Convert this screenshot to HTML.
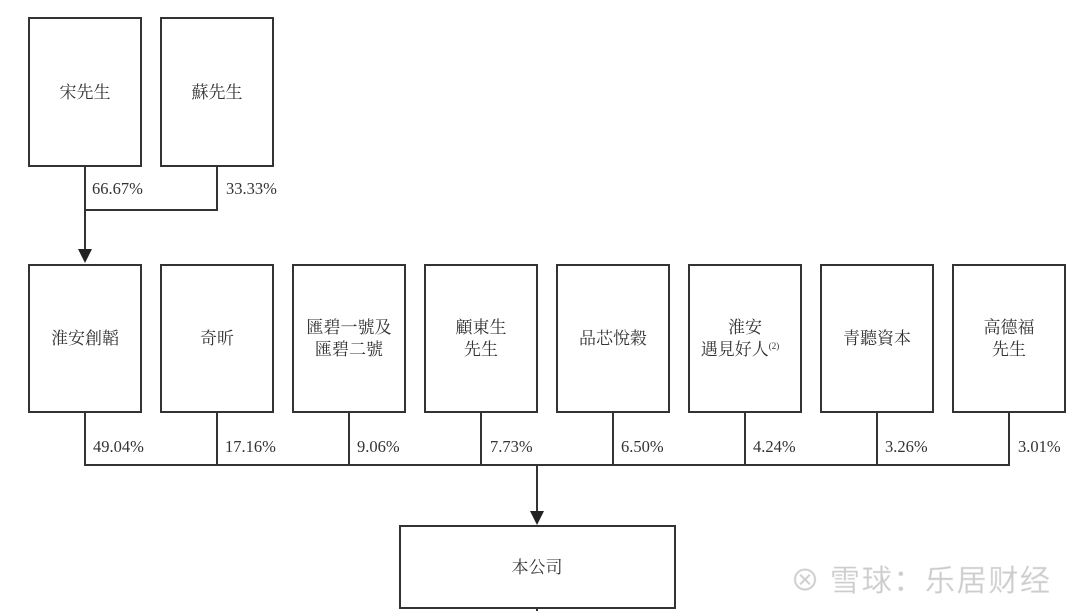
<!DOCTYPE html>
<html><head><meta charset="utf-8"><style>
body{margin:0;background:#fff;}
svg text{font-family:"Liberation Serif","Noto Serif CJK SC",serif;fill:#333;}
</style></head><body>
<svg width="1080" height="611" viewBox="0 0 1080 611" xmlns="http://www.w3.org/2000/svg">
<g fill="none" stroke="#333" stroke-width="2">
<rect x="29" y="18" width="112" height="148"/>
<rect x="161" y="18" width="112" height="148"/>
<path d="M85 166V250M217 166V210H85"/>
<rect x="29" y="265" width="112" height="147"/>
<rect x="161" y="265" width="112" height="147"/>
<rect x="293" y="265" width="112" height="147"/>
<rect x="425" y="265" width="112" height="147"/>
<rect x="557" y="265" width="112" height="147"/>
<rect x="689" y="265" width="112" height="147"/>
<rect x="821" y="265" width="112" height="147"/>
<rect x="953" y="265" width="112" height="147"/>
<path d="M85 412V465H1009V412M217 412V465M349 412V465M481 412V465M613 412V465M745 412V465M877 412V465M537 465V512"/>
<rect x="400" y="526" width="275" height="82"/>
<path d="M537 608V611"/>
</g>
<g fill="#222">
<path d="M78 249H92L85 263Z"/>
<path d="M530 511H544L537 525Z"/>
</g>
<g font-size="17" text-anchor="middle">
<text x="85" y="98">宋先生</text>
<text x="217" y="98">蘇先生</text>
<text x="85" y="344">淮安創韜</text>
<text x="217" y="344">奇昕</text>
<text x="349" y="333">匯碧一號及</text>
<text x="349" y="355">匯碧二號</text>
<text x="481" y="333">顧東生</text>
<text x="481" y="355">先生</text>
<text x="613" y="344">品芯悅穀</text>
<text x="745" y="333">淮安</text>
<text x="740" y="355">遇見好人<tspan font-size="9" dy="-6">(2)</tspan></text>
<text x="877" y="344">青聽資本</text>
<text x="1009" y="333">高德福</text>
<text x="1009" y="355">先生</text>
<text x="537" y="573">本公司</text>
</g>
<g font-size="16.5">
<text x="92" y="194">66.67%</text>
<text x="226" y="194">33.33%</text>
<text x="93" y="452">49.04%</text>
<text x="225" y="452">17.16%</text>
<text x="357" y="452">9.06%</text>
<text x="490" y="452">7.73%</text>
<text x="621" y="452">6.50%</text>
<text x="753" y="452">4.24%</text>
<text x="885" y="452">3.26%</text>
<text x="1018" y="452">3.01%</text>
</g>
<text x="790" y="591" font-size="30" textLength="260" style="font-family:'Noto Sans CJK SC',sans-serif;fill:#ccc;stroke:#eee;stroke-width:0.5">⊗ 雪球：乐居财经</text>
</svg>
</body></html>
